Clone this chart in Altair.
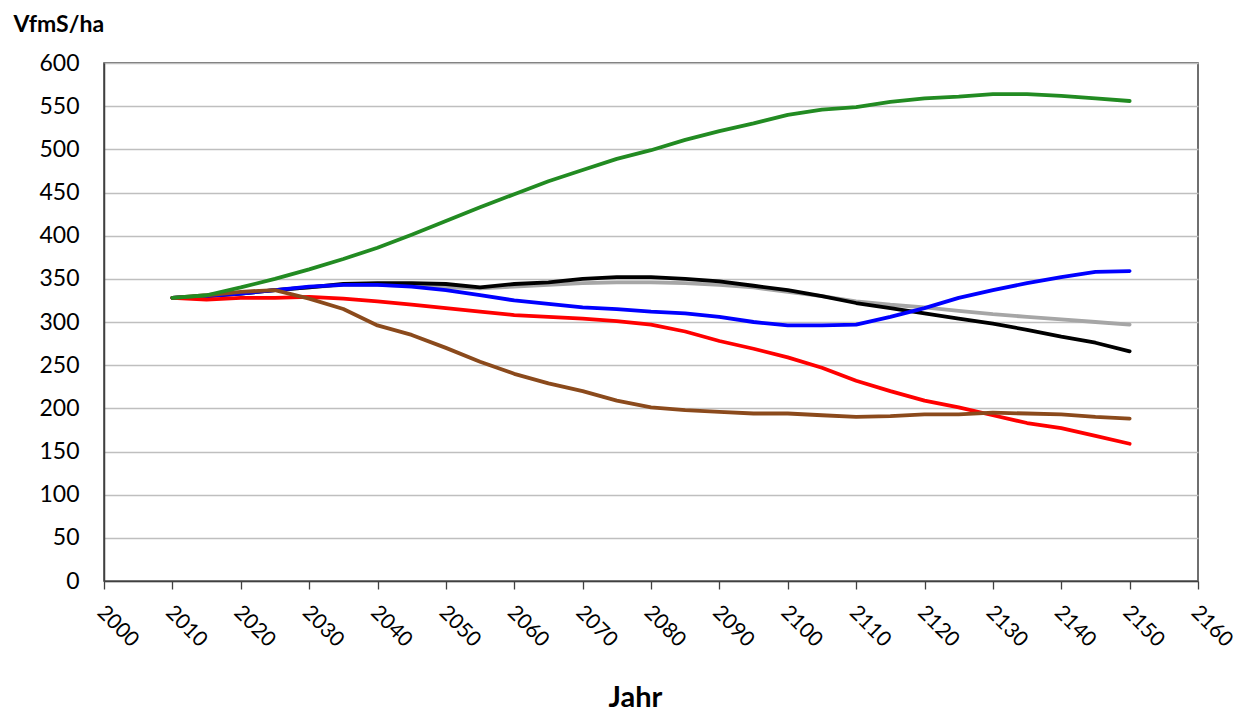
import altair as alt
import pandas as pd

years = [2010, 2015, 2020, 2025, 2030, 2035, 2040, 2045, 2050, 2055, 2060, 2065, 2070,
         2075, 2080, 2085, 2090, 2095, 2100, 2105, 2110, 2115, 2120, 2125, 2130, 2135,
         2140, 2145, 2150]

green = [328, 331, 340, 350, 361, 373, 386, 401, 417, 433, 448, 463, 476,
         489, 499, 511, 521, 530, 540, 546, 549, 555, 559, 561, 564, 564,
         562, 559, 556]
grey = [328, 330, 333, 337, 340, 343, 343, 342, 340, 339, 341, 343, 345,
        346, 346, 345, 343, 340, 335, 330, 324, 320, 317, 313, 309, 306,
        303, 300, 297]
black = [328, 330, 333, 337, 340, 344, 345, 345, 344, 340, 344, 346, 350,
         352, 352, 350, 347, 342, 337, 330, 322, 316, 310, 304, 298, 291,
         283, 276, 266]
blue = [328, 330, 333, 337, 341, 343, 343, 341, 337, 331, 325, 321, 317,
        315, 312, 310, 306, 300, 296, 296, 297, 306, 316, 328, 337, 345,
        352, 358, 359]
red = [328, 326, 328, 328, 329, 327, 324, 320, 316, 312, 308, 306, 304,
       301, 297, 289, 278, 269, 259, 247, 232, 220, 209, 201, 192, 183,
       177, 168, 159]
brown = [328, 331, 335, 337, 327, 315, 296, 285, 270, 254, 240, 229, 220,
         209, 201, 198, 196, 194, 194, 192, 190, 191, 193, 193, 195, 194,
         193, 190, 188]

series_names = ["grau", "schwarz", "blau", "rot", "braun", "grün"]
series_values = [grey, black, blue, red, brown, green]
series_colors = ["#A6A6A6", "#000000", "#0000FF", "#FF0000", "#8B4A1C", "#228B22"]

x_ticks = list(range(2000, 2161, 10))
y_ticks = list(range(0, 601, 50))

FONT = "Lato"

x_scale = alt.Scale(domain=[2000, 2160], nice=False, zero=False)
y_scale = alt.Scale(domain=[0, 600], nice=False)

layers = []
for i, (name, vals, col) in enumerate(zip(series_names, series_values, series_colors)):
    df = pd.DataFrame({"Jahr": years, "Wert": vals, "Serie": name})
    if i == 0:
        x_enc = alt.X("Jahr:Q", scale=x_scale,
                      axis=alt.Axis(values=x_ticks, format="d", title="Jahr",
                                    labelAngle=45, labelAlign="left", labelBaseline="middle",
                                    labelPadding=20, labelOffset=-4, tickSize=8,
                                    tickColor="#404040", tickWidth=1.3,
                                    domainColor="#404040", domainWidth=1.5,
                                    grid=False, labelFont=FONT, labelFontSize=21,
                                    labelColor="#000000", titleFont=FONT, titleFontSize=29,
                                    titleFontWeight="bold", titleColor="#000000",
                                    titleAnchor="start", titleAlign="center", titleX=531,
                                    titleY=125, titleBaseline="alphabetic"))
        y_enc = alt.Y("Wert:Q", scale=y_scale,
                      axis=alt.Axis(values=y_ticks, title="VfmS/ha", titleAngle=0,
                                    titleAlign="left", titleBaseline="alphabetic",
                                    titleX=-91, titleY=-32, titleFont=FONT,
                                    titleFontSize=23, titleFontWeight="bold",
                                    titleColor="#000000", labelFont=FONT, labelFontSize=23,
                                    labelColor="#000000", labelPadding=25, ticks=False,
                                    domainColor="#404040", domainWidth=1.5,
                                    grid=True, gridColor="#BFBFBF", gridWidth=1.3))
    else:
        x_enc = alt.X("Jahr:Q", scale=x_scale)
        y_enc = alt.Y("Wert:Q", scale=y_scale)
    layers.append(
        alt.Chart(df).mark_line(strokeWidth=3.8, color=col, strokeCap="round",
                                strokeJoin="round").encode(x=x_enc, y=y_enc)
    )

chart = alt.layer(*layers).properties(
    width=1094,
    height=518,
    autosize=alt.AutoSizeParams(type="none"),
    padding={"left": 96, "top": 55, "right": 38, "bottom": 130},
    background="#FFFFFF",
).configure_view(stroke="#404040", strokeWidth=1.5)

chart.save("out.html", embed_options={"renderer": "svg", "actions": False})
